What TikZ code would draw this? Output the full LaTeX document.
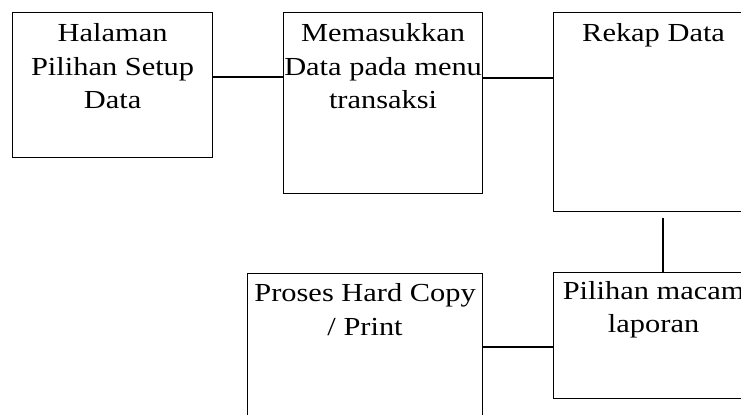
\documentclass[tikz,border=0pt]{standalone}
\usepackage{fontspec}
\setmainfont{Liberation Serif}
\newfontfamily\lebar[FakeStretch=1.17]{Liberation Serif}
\usetikzlibrary{positioning,calc}
\tikzset{
  kotak/.style={draw, line width=0.6pt, anchor=north west, inner sep=0pt},
  teks/.style={anchor=north, inner sep=0pt, align=center, font=\lebar\fontsize{13}{16.75}\selectfont},
  garis/.style={line width=0.6pt}
}
\begin{document}
\begin{tikzpicture}[x=0.5pt,y=-0.5pt]
    \useasboundingbox (0,0) rectangle (741,415);
    \clip (0,0) rectangle (741,415);
    % kotak proses
    \node[kotak, minimum width=100pt, minimum height=72.5pt] (setup) at (12,12) {};
    \node[kotak, minimum width=99.5pt, minimum height=90.5pt] (input) at (283,12) {};
    \node[kotak, minimum width=100pt, minimum height=99.5pt] (rekap) at (553,12) {};
    \node[kotak, minimum width=100pt, minimum height=63pt] (macam) at (553,272) {};
    \node[kotak, minimum width=117.5pt, minimum height=90.5pt] (print) at (247,273) {};
    % teks
    \node[teks] (tsetup) at ($(setup.north)+(0,6)$) {\strut Halaman\\Pilihan Setup\\Data};
    \node[teks] (tinput) at ($(input.north)+(0,6)$) {\strut Memasukkan\\Data pada menu\\transaksi};
    \node[teks] (trekap) at ($(rekap.north)+(0,6)$) {\strut Rekap Data};
    \node[teks] (tmacam) at ($(macam.north)+(0,3.5)$) {\strut Pilihan macam\\laporan};
    \node[teks] (tprint) at ($(print.north)+(0,5)$) {\strut Proses Hard Copy\\/ Print};
    % garis penghubung
    \draw[garis] (setup.north east) ++(0,65) coordinate (c1) -- (c1 -| input.west);
    \draw[garis] (input.north east) ++(0,66) coordinate (c2) -- (c2 -| rekap.west);
    \draw[garis] (rekap.south west) ++(110,6) coordinate (c3) -- (c3 |- macam.north);
    \draw[garis] (macam.north west) ++(0,75) coordinate (c4) -- (c4 -| print.east);
\end{tikzpicture}
\end{document}
